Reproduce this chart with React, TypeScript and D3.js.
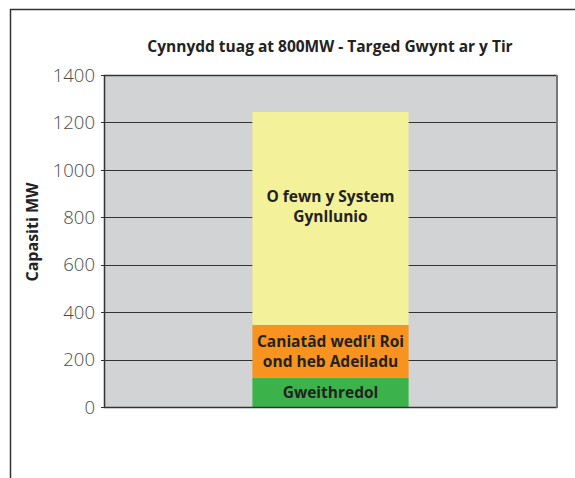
import * as d3 from "d3"

const title = "Cynnydd tuag at 800MW - Targed Gwynt ar y Tir"
const yLabel = "Capasiti MW"
const segments = ["Gweithredol", "Caniatâd wedi’i Roi ond heb Adeiladu", "O fewn y System Gynllunio"]
const segmentLines = [["Gweithredol"], ["Caniatâd wedi’i Roi", "ond heb Adeiladu"], ["O fewn y System", "Gynllunio"]]
const values = [123, 223, 898]
const colors = ["#3bb34a", "#f7931e", "#f3f199"]
const yTicks = [0, 200, 400, 600, 800, 1000, 1200, 1400]

export default function App() {
  const width = 575
  const height = 478
  const left = 104
  const right = 557
  const top = 75
  const bottom = 407

  const y = d3.scaleLinear().domain([0, 1400]).range([bottom, top])
  const x = d3.scaleBand().domain(["bar"]).range([left, right]).paddingInner(0).paddingOuter(0.95)

  const stacked = d3.stack<number[]>().keys(["0", "1", "2"]).value((d, k) => d[+k])([values])

  const font = "'Open Sans', sans-serif"

  return (
    <svg width={width} height={height} style={{ position: "absolute", left: 0, top: 0, background: "#fff" }}>
      <path d={`M10.5,${height} V9.5 H${width}`} fill="none" stroke="#333" strokeWidth={1.5} />
      <text x={330} y={52} textAnchor="middle" fontFamily={font} fontWeight={700} fontSize={15.5} fill="#222">
        {title}
      </text>
      <rect x={left} y={top} width={right - left} height={bottom - top} fill="#d2d3d5" />
      {yTicks.map((t) => (
        <g key={t}>
          {t > 0 && t < 1400 && (
            <line x1={left} x2={right} y1={Math.round(y(t)) + 0.5} y2={Math.round(y(t)) + 0.5} stroke="#333" strokeWidth={1} />
          )}
          <line x1={left - 3} x2={left} y1={Math.round(y(t)) + 0.5} y2={Math.round(y(t)) + 0.5} stroke="#333" strokeWidth={1} />
          <text x={95} y={y(t)} dy="0.36em" textAnchor="end" fontFamily={font} fontWeight={300} fontSize={18.5} fill="#4a4a4a">
            {t}
          </text>
        </g>
      ))}
      {stacked.map((s, i) => {
        const d = s[0]
        const y0 = y(d[0])
        const y1 = y(d[1])
        const lines = segmentLines[i]
        const cy = i === 2 ? 207 : (y0 + y1) / 2
        const cx = (x("bar") as number) + x.bandwidth() / 2
        return (
          <g key={segments[i]}>
            <rect x={x("bar")} y={y1} width={x.bandwidth()} height={y0 - y1} fill={colors[i]} />
            <text x={cx} y={cy - ((lines.length - 1) * 20) / 2} textAnchor="middle" fontFamily={font} fontWeight={700} fontSize={15.5} fill="#222">
              {lines.map((l, j) => (
                <tspan key={j} x={cx} dy={j === 0 ? "0.35em" : 20}>
                  {l}
                </tspan>
              ))}
            </text>
          </g>
        )
      })}
      <path d={`M${left + 0.5},${top} V${bottom + 0.5} H${right}`} fill="none" stroke="#333" strokeWidth={1.5} />
      <line x1={left} x2={right} y1={top + 0.5} y2={top + 0.5} stroke="#333" strokeWidth={1.5} />
      <line x1={right} x2={right} y1={top} y2={bottom + 1} stroke="#777" strokeWidth={2} />
      <text transform={`translate(38,232) rotate(-90)`} textAnchor="middle" fontFamily={font} fontWeight={700} fontSize={16} fill="#222">
        {yLabel}
      </text>
    </svg>
  )
}
